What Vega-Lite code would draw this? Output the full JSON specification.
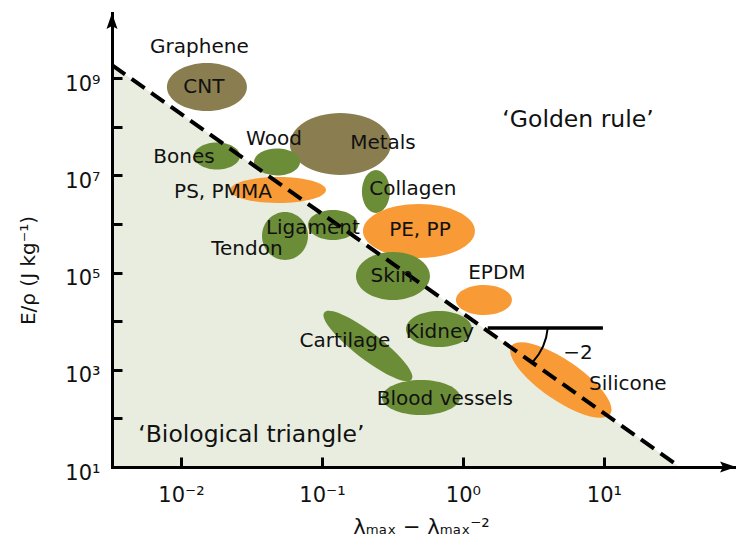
{
  "$schema": "https://vega.github.io/schema/vega-lite/v6.json",
  "width": 624,
  "height": 454,
  "autosize": {"type": "none"},
  "padding": {"left": 112, "top": 13, "right": 0, "bottom": 77},
  "background": "white",
  "config": {
    "view": {"stroke": null},
    "font": "DejaVu Sans",
    "text": {"font": "DejaVu Sans", "color": "#111111"}
  },
  "datasets": {
    "triangle": [
      {"x": 0.003243, "y": 1.86e9},
      {"x": 34.6, "y": 10}
    ],
    "materials": [
      {"material": "CNT", "group": "carbon/metal", "x": 0.01528, "y": 6.59e8},
      {"material": "Metals", "group": "carbon/metal", "x": 0.1352, "y": 4.43e7},
      {"material": "Bones", "group": "biological", "x": 0.0180, "y": 2.51e7},
      {"material": "Wood", "group": "biological", "x": 0.0480, "y": 1.89e7},
      {"material": "PS, PMMA", "group": "synthetic", "x": 0.0488, "y": 5.01e6},
      {"material": "Tendon", "group": "biological", "x": 0.0547, "y": 5.66e5},
      {"material": "Ligament", "group": "biological", "x": 0.1197, "y": 9.53e5},
      {"material": "Collagen", "group": "biological", "x": 0.2415, "y": 4.67e6},
      {"material": "PE, PP", "group": "synthetic", "x": 0.4876, "y": 7.18e5},
      {"material": "Skin", "group": "biological", "x": 0.319, "y": 8.51e4},
      {"material": "EPDM", "group": "synthetic", "x": 1.409, "y": 2.73e4},
      {"material": "Kidney", "group": "biological", "x": 0.676, "y": 6920},
      {"material": "Cartilage", "group": "biological", "x": 0.212, "y": 3090},
      {"material": "Blood vessels", "group": "biological", "x": 0.504, "y": 269},
      {"material": "Silicone", "group": "synthetic", "x": 4.95, "y": 617}
    ],
    "labels": [
      {"label": "Graphene", "x": 0.01352, "y": 4.39e9},
      {"label": "CNT", "x": 0.01456, "y": 6.59e8},
      {"label": "Wood", "x": 0.0457, "y": 5.61e7},
      {"label": "Metals", "x": 0.271, "y": 4.64e7},
      {"label": "Bones", "x": 0.0105, "y": 2.39e7},
      {"label": "PS, PMMA", "x": 0.01986, "y": 4.55e6},
      {"label": "Collagen", "x": 0.4416, "y": 5.25e6},
      {"label": "Ligament", "x": 0.0863, "y": 8.28e5},
      {"label": "PE, PP", "x": 0.4955, "y": 7.53e5},
      {"label": "Tendon", "x": 0.02938, "y": 3.06e5},
      {"label": "Skin", "x": 0.3133, "y": 8.51e4},
      {"label": "EPDM", "x": 1.741, "y": 9.82e4},
      {"label": "Kidney", "x": 0.687, "y": 5998},
      {"label": "Cartilage", "x": 0.1456, "y": 3917},
      {"label": "Blood vessels", "x": 0.7447, "y": 250.6},
      {"label": "Silicone", "x": 14.79, "y": 510.6},
      {"label": "−2", "x": 6.55, "y": 2218}
    ],
    "notes": [
      {"label": "‘Golden rule’", "x": 6.55, "y": 1.38e8},
      {"label": "‘Biological triangle’", "x": 0.0316, "y": 45.5}
    ],
    "slope": [
      {"x": 1.5, "y": 7244},
      {"x": 9.84, "y": 7244}
    ],
    "corner": [
      {"x": 1.5, "y": 7244}
    ],
    "ytop": [{"x": 0.003243, "y": 2.198e10}],
    "xright": [{"x": 86.5, "y": 10}]
  },
  "encoding": {
    "x": {
      "field": "x",
      "type": "quantitative",
      "scale": {"type": "log", "domain": [0.003243, 86.5], "nice": false, "zero": false},
      "axis": {
        "values": [0.01, 0.1, 1, 10],
        "labelExpr": "'10' + (datum.value < 0.05 ? '⁻²' : datum.value < 0.5 ? '⁻¹' : datum.value < 5 ? '⁰' : '¹')",
        "labelFont": "DejaVu Sans",
        "labelFontSize": 21,
        "labelColor": "#111111",
        "labelPadding": 27,
        "labelFlush": false,
        "labelOverlap": false,
        "tickSize": -10,
        "tickWidth": 3,
        "tickColor": "#000000",
        "domainWidth": 3,
        "domainColor": "#000000",
        "domainCap": "square",
        "grid": false,
        "title": "λₘₐₓ − λₘₐₓ⁻²",
        "titleFont": "DejaVu Sans",
        "titleFontSize": 21,
        "titleFontWeight": "normal",
        "titleColor": "#111111",
        "titleX": 309,
        "titleY": 60,
        "titleAlign": "center",
        "titleBaseline": "middle",
        "zindex": 1
      }
    },
    "y": {
      "field": "y",
      "type": "quantitative",
      "scale": {"type": "log", "domain": [10, 2.198e10], "nice": false, "zero": false},
      "axis": {
        "values": [10, 100, 1000, 10000, 100000, 1000000, 10000000, 100000000, 1000000000],
        "labelExpr": "(round(log(datum.value)/LN10) % 2 == 1) ? '10' + ['⁰','¹','²','³','⁴','⁵','⁶','⁷','⁸','⁹'][round(log(datum.value)/LN10)] : ''",
        "labelFont": "DejaVu Sans",
        "labelFontSize": 21,
        "labelColor": "#111111",
        "labelPadding": 22,
        "labelBaseline": "alphabetic",
        "labelOffset": 12,
        "labelFlush": false,
        "labelOverlap": false,
        "tickSize": -10,
        "tickWidth": 3,
        "tickColor": "#000000",
        "domainWidth": 3,
        "domainColor": "#000000",
        "domainCap": "square",
        "grid": false,
        "title": "E/ρ (J kg⁻¹)",
        "titleFont": "DejaVu Sans",
        "titleFontSize": 20,
        "titleFontWeight": "normal",
        "titleColor": "#111111",
        "titleAngle": -90,
        "titleX": -84,
        "titleY": 257,
        "titleAlign": "center",
        "titleBaseline": "middle",
        "zindex": 1
      }
    }
  },
  "layer": [
    {
      "data": {"name": "triangle"},
      "mark": {"type": "area", "color": "#e8eddf", "opacity": 1},
      "encoding": {"y2": {"datum": 10}}
    },
    {
      "data": {"name": "materials"},
      "mark": {"type": "point", "filled": true, "size": 4, "opacity": 1, "strokeWidth": 0},
      "encoding": {
        "color": {
          "field": "group",
          "type": "nominal",
          "scale": {"domain": ["carbon/metal", "biological", "synthetic"], "range": ["#8a7e50", "#6b8d38", "#f89a35"]},
          "legend": null
        },
        "shape": {
          "field": "material",
          "type": "nominal",
          "scale": {
            "domain": ["CNT", "Metals", "Bones", "Wood", "PS, PMMA", "Tendon", "Ligament", "Collagen", "PE, PP", "Skin", "EPDM", "Kidney", "Cartilage", "Blood vessels", "Silicone"],
            "range": [
              "M -40 0 A 40 24 0 1 1 40 0 A 40 24 0 1 1 -40 0 Z",
              "M -50.5 0 A 50.5 31 0 1 1 50.5 0 A 50.5 31 0 1 1 -50.5 0 Z",
              "M -23 0 A 23 13.5 0 1 1 23 0 A 23 13.5 0 1 1 -23 0 Z",
              "M -23 0 A 23 13.5 0 1 1 23 0 A 23 13.5 0 1 1 -23 0 Z",
              "M -48 0 A 48 13 0 1 1 48 0 A 48 13 0 1 1 -48 0 Z",
              "M -23 0 A 23 24 0 1 1 23 0 A 23 24 0 1 1 -23 0 Z",
              "M -25 0 A 25 15 0 1 1 25 0 A 25 15 0 1 1 -25 0 Z",
              "M -14 0 A 14 21.5 0 1 1 14 0 A 14 21.5 0 1 1 -14 0 Z",
              "M -56 0 A 56 27 0 1 1 56 0 A 56 27 0 1 1 -56 0 Z",
              "M -37 0 A 37 24 0 1 1 37 0 A 37 24 0 1 1 -37 0 Z",
              "M -28 0 A 28 15 0 1 1 28 0 A 28 15 0 1 1 -28 0 Z",
              "M -33 0 A 33 18 0 1 1 33 0 A 33 18 0 1 1 -33 0 Z",
              "M -43.6 -33.5 A 55 13 37.5 1 1 43.6 33.5 A 55 13 37.5 1 1 -43.6 -33.5 Z",
              "M -39 0 A 39 17.5 0 1 1 39 0 A 39 17.5 0 1 1 -39 0 Z",
              "M -49.4 -34.1 A 60 20 34.6 1 1 49.4 34.1 A 60 20 34.6 1 1 -49.4 -34.1 Z"
            ]
          },
          "legend": null
        }
      }
    },
    {
      "data": {"name": "triangle"},
      "mark": {"type": "line", "color": "#000000", "strokeWidth": 4, "strokeDash": [16, 8]},
      "encoding": {}
    },
    {
      "data": {"name": "slope"},
      "mark": {"type": "line", "color": "#000000", "strokeWidth": 3.5},
      "encoding": {}
    },
    {
      "data": {"name": "corner"},
      "mark": {"type": "point", "shape": "M 60 0 A 58 58 0 0 1 45 34", "size": 4, "filled": false, "stroke": "#000000", "strokeWidth": 2, "opacity": 1}
    },
    {
      "data": {"name": "ytop"},
      "mark": {"type": "point", "shape": "M 0 0 L 5.5 16 L 0 13 L -5.5 16 Z", "size": 4, "filled": true, "color": "#000000", "opacity": 1}
    },
    {
      "data": {"name": "xright"},
      "mark": {"type": "point", "shape": "M 0 0 L -16 -5.5 L -13 0 L -16 5.5 Z", "size": 4, "filled": true, "color": "#000000", "opacity": 1}
    },
    {
      "data": {"name": "labels"},
      "mark": {"type": "text", "fontSize": 20, "align": "center", "baseline": "middle", "font": "DejaVu Sans", "color": "#111111"},
      "encoding": {"text": {"field": "label"}}
    },
    {
      "data": {"name": "notes"},
      "mark": {"type": "text", "fontSize": 23.5, "align": "center", "baseline": "middle", "font": "DejaVu Sans", "color": "#111111"},
      "encoding": {"text": {"field": "label"}}
    }
  ]
}
